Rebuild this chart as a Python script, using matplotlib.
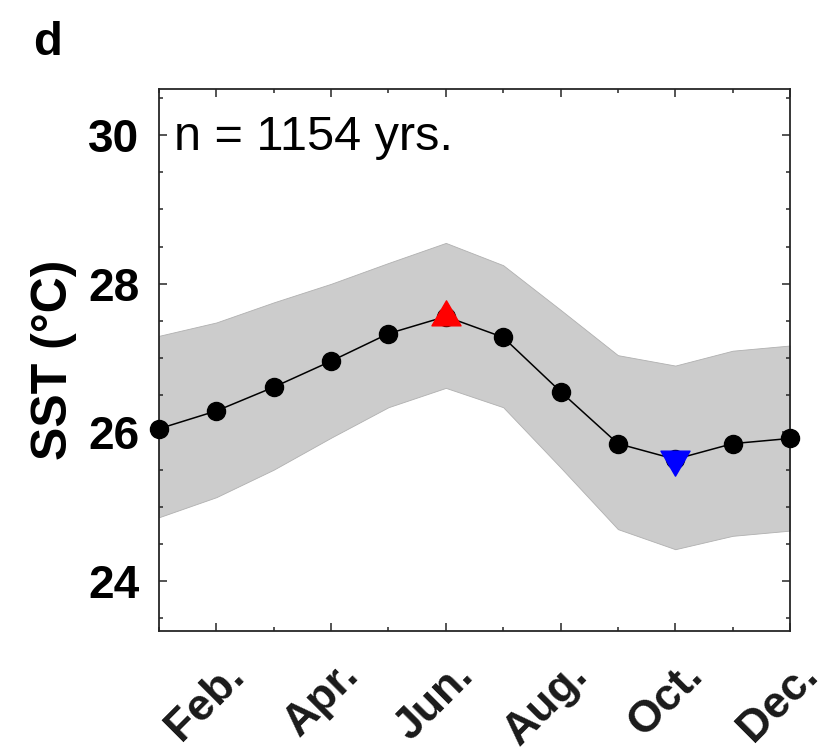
import numpy as np
import matplotlib
matplotlib.use("Agg")
import matplotlib.pyplot as plt
from matplotlib.path import Path
from matplotlib.transforms import ScaledTranslation
from matplotlib.ticker import FixedLocator, MultipleLocator

plt.rcParams['font.family'] = ['Liberation Sans', 'DejaVu Sans']

# Monthly climatology of SST (1 = Jan ... 12 = Dec)
months = np.arange(1, 13)
sst_mean = [26.05, 26.29, 26.61, 26.96, 27.33, 27.56,
            27.28, 26.55, 25.85, 25.64, 25.85, 25.92]
sst_upper = [27.30, 27.48, 27.75, 28.00, 28.28, 28.55,
             28.25, 27.65, 27.04, 26.90, 27.10, 27.17]
sst_lower = [24.86, 25.13, 25.50, 25.93, 26.34, 26.60,
             26.34, 25.53, 24.70, 24.43, 24.61, 24.68]
max_month = 6
min_month = 10
tick_months = [2, 4, 6, 8, 10, 12]
tick_labels = ['Feb.', 'Apr.', 'Jun.', 'Aug.', 'Oct.', 'Dec.']
y_ticks = [24, 26, 28, 30]
n_years = 1154

# Triangle markers centred on their centroid
h = 0.86
tri_up = Path([(0, 2 * h / 3), (-0.5, -h / 3), (0.5, -h / 3), (0, 2 * h / 3)],
              [Path.MOVETO, Path.LINETO, Path.LINETO, Path.CLOSEPOLY])
tri_dn = Path([(0, -2 * h / 3), (-0.5, h / 3), (0.5, h / 3), (0, -2 * h / 3)],
              [Path.MOVETO, Path.LINETO, Path.LINETO, Path.CLOSEPOLY])

fig = plt.figure(figsize=(8.28, 7.56), dpi=100)
ax = fig.add_axes([159 / 828, 1 - 631 / 756, 631 / 828, 542 / 756])

ax.fill_between(months, sst_lower, sst_upper, facecolor='#cccccc',
                edgecolor='#b0b0b0', linewidth=0.6, zorder=1)
ax.plot(months, sst_mean, color='black', linewidth=1.1, zorder=2)
ax.plot(months, sst_mean, linestyle='none', marker='o', markersize=13,
        markerfacecolor='black', markeredgecolor='black', zorder=3,
        clip_on=False)

i_max = max_month - 1
i_min = min_month - 1
ax.plot([months[i_max]], [sst_mean[i_max]], linestyle='none', marker=tri_up,
        markersize=24, color='red', zorder=4)
ax.plot([months[i_min]], [sst_mean[i_min]], linestyle='none', marker=tri_dn,
        markersize=24, color='blue', zorder=4)

ax.set_xlim(1, 12)
ax.set_ylim(23.33, 30.62)

ax.xaxis.set_major_locator(FixedLocator(tick_months))
ax.xaxis.set_minor_locator(FixedLocator(months))
ax.set_xticklabels([])
ax.set_yticks(y_ticks)
ax.yaxis.set_minor_locator(MultipleLocator(0.5))
ax.set_yticklabels([str(v) for v in y_ticks], fontsize=33, fontweight='bold')

ax.tick_params(which='both', direction='in', top=True, right=True,
               color='#262626', width=1.1)
ax.tick_params(which='major', length=6)
ax.tick_params(which='minor', length=3)
ax.tick_params(axis='y', which='major', pad=14)

for s in ax.spines.values():
    s.set_linewidth(1.3)
    s.set_color('#262626')

# Rotated month labels below the axis
for m, lab in zip(tick_months, tick_labels):
    off = ScaledTranslation(21 / 72, -33 / 72, fig.dpi_scale_trans)
    ax.text(m, 0, lab, transform=ax.get_xaxis_transform() + off,
            rotation=45, rotation_mode='anchor', ha='right', va='baseline',
            fontsize=32, fontweight='bold', color='#1a1a1a')

ax.set_ylabel('SST (°C)', fontsize=36, fontweight='bold')
ax.yaxis.set_label_coords(-0.13, 0.5)

ax.text(0.024, 0.8875, f'n = {n_years} yrs.', transform=ax.transAxes,
        fontsize=35, ha='left', va='baseline', color='black')

fig.text(33 / 828, 1 - 55 / 756, 'd', fontsize=34, fontweight='bold',
         ha='left', va='baseline')

fig.savefig('out.png', dpi=100)
